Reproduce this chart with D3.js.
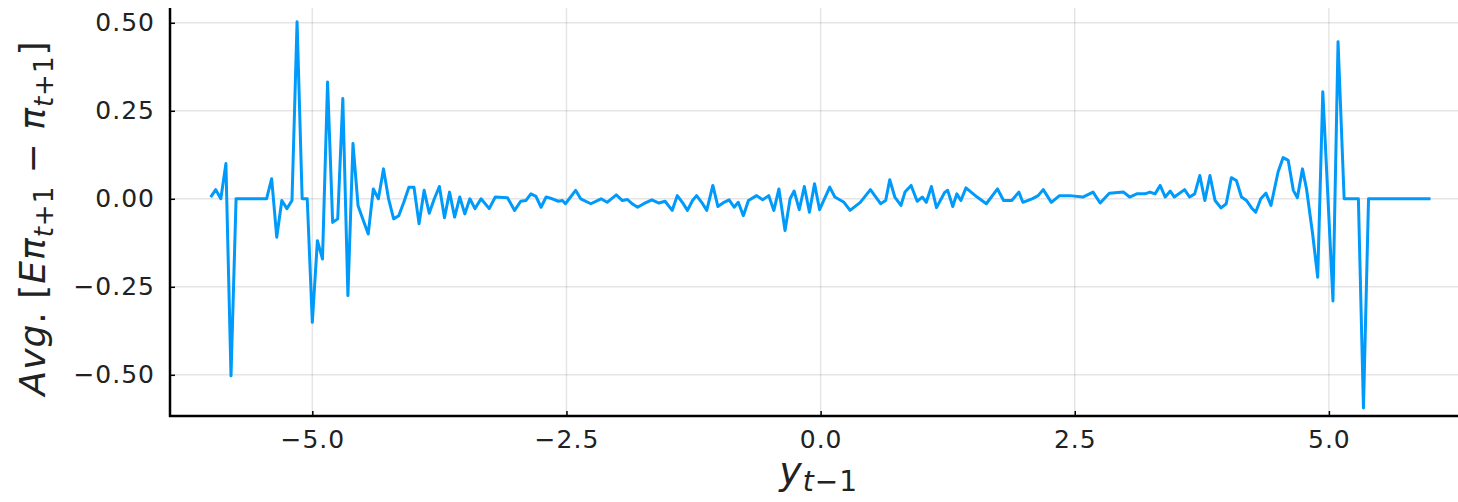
<!DOCTYPE html>
<html>
<head>
<meta charset="utf-8">
<script src="https://cdn.jsdelivr.net/npm/d3@7"></script>
<style>
  body { margin: 0; background: #fff; }
  svg { display: block; font-family: "DejaVu Sans", sans-serif; }
</style>
</head>
<body>
<div id="canvas"></div>
<script>
// y_{t-1} grid positions
var xVals = [-6.00,-5.95,-5.90,-5.85,-5.80,-5.75,-5.45,-5.40,-5.35,-5.30,-5.25,-5.20,-5.15,-5.10,-5.05,
  -5.00,-4.95,-4.90,-4.85,-4.80,-4.75,-4.70,-4.65,-4.60,-4.55,-4.50,-4.45,-4.40,-4.35,-4.30,-4.25,
  -4.20,-4.15,-4.10,-4.05,-4.00,-3.95,-3.90,-3.85,-3.80,-3.75,-3.70,-3.65,-3.60,-3.55,-3.50,-3.45,
  -3.40,-3.34,-3.26,-3.20,-3.08,-3.01,-2.95,-2.90,-2.85,-2.80,-2.75,-2.70,-2.64,-2.58,-2.54,-2.51,
  -2.41,-2.36,-2.26,-2.16,-2.10,-2.01,-1.95,-1.90,-1.85,-1.80,-1.74,-1.66,-1.59,-1.53,-1.46,-1.41,
  -1.36,-1.31,-1.26,-1.22,-1.17,-1.12,-1.06,-1.01,-0.95,-0.90,-0.85,-0.81,-0.76,-0.71,-0.63,-0.57,
  -0.51,-0.46,-0.41,-0.35,-0.30,-0.26,-0.21,-0.16,-0.11,-0.06,-0.01,0.09,0.14,0.23,0.29,0.39,0.49,
  0.59,0.64,0.68,0.73,0.79,0.83,0.89,0.95,1.00,1.04,1.09,1.14,1.22,1.25,1.30,1.34,1.38,1.43,1.54,
  1.63,1.74,1.80,1.88,1.95,1.99,2.08,2.14,2.19,2.27,2.35,2.45,2.58,2.68,2.75,2.84,2.98,3.04,3.11,
  3.19,3.24,3.29,3.34,3.39,3.44,3.48,3.58,3.63,3.68,3.73,3.78,3.83,3.88,3.94,3.99,4.04,4.09,4.14,
  4.19,4.24,4.28,4.33,4.38,4.43,4.50,4.55,4.60,4.65,4.69,4.74,4.78,4.84,4.89,4.94,5.04,5.09,5.15,
  5.29,5.34,5.39,6.00];

// Avg. forecast error at each point
var yVals = [0.005,0.026,0.000,0.100,-0.503,0.000,0.000,0.057,-0.109,-0.005,-0.028,-0.005,0.503,0.000,0.000,
  -0.351,-0.119,-0.171,0.332,-0.067,-0.057,0.285,-0.275,0.157,-0.020,-0.060,-0.100,0.028,0.000,0.085,0.000,
  -0.057,-0.048,-0.010,0.033,0.033,-0.071,0.024,-0.041,0.000,0.035,-0.054,0.019,-0.052,0.005,-0.043,0.000,
  -0.028,0.000,-0.028,0.005,0.003,-0.033,-0.007,-0.005,0.014,0.007,-0.024,0.005,0.000,-0.007,-0.005,-0.014,
  0.024,0.000,-0.014,0.000,-0.010,0.011,-0.005,-0.002,-0.015,-0.024,-0.014,-0.003,-0.012,-0.007,-0.033,0.009,
  -0.010,-0.033,-0.005,0.009,-0.010,-0.033,0.038,-0.022,-0.010,-0.003,-0.024,-0.010,-0.048,-0.005,0.009,-0.003,
  0.009,-0.033,0.028,-0.090,0.000,0.022,-0.031,0.035,-0.038,0.043,-0.031,0.033,0.005,-0.010,-0.033,-0.010,0.026,
  -0.014,-0.005,0.054,0.005,-0.019,0.019,0.038,-0.007,0.005,-0.010,0.035,-0.025,0.018,0.024,-0.022,0.014,-0.005,0.031,0.005,
  -0.014,0.028,-0.005,-0.005,0.019,-0.010,0.000,0.009,0.026,-0.010,0.009,0.009,0.005,0.019,-0.012,0.016,0.019,0.005,0.014,
  0.014,0.019,0.014,0.038,0.005,0.022,0.005,0.026,0.005,0.014,0.066,-0.005,0.066,-0.005,-0.026,-0.014,0.060,0.052,0.005,
  -0.005,-0.026,-0.038,0.000,0.016,-0.019,0.076,0.117,0.109,0.024,0.003,0.085,0.028,-0.100,-0.223,0.304,-0.290,0.446,0.000,
  0.000,-0.594,0.000,0.000];

var xTicks = [-5, -2.5, 0, 2.5, 5];
var yTicks = [-0.5, -0.25, 0, 0.25, 0.5];

var W = 1458, H = 502;
var m = {t:8, r:0, b:86, l:170};

var svg = d3.select('#canvas')
    .append('svg')
    .attr('width', W)
    .attr('height', H);

var x = d3.scaleLinear().domain([-6.4, 6.27]).range([m.l, W - m.r]);
var y = d3.scaleLinear().domain([-0.617, 0.542]).range([H - m.b, m.t]);

var fmtTick = function(d){ return d3.format('.1f')(d).replace('-', '\u2212'); };
var fmtTickY = function(d){ return d3.format('.2f')(d).replace('-', '\u2212'); };

//Grid
svg.append('g').selectAll('line')
    .data(xTicks).enter().append('line')
    .attr('x1', function(d){ return x(d); })
    .attr('x2', function(d){ return x(d); })
    .attr('y1', m.t).attr('y2', H - m.b)
    .style('stroke', '#000').style('stroke-opacity', 0.1).style('stroke-width', 1.5);

svg.append('g').selectAll('line')
    .data(yTicks).enter().append('line')
    .attr('x1', m.l).attr('x2', W)
    .attr('y1', function(d){ return y(d); })
    .attr('y2', function(d){ return y(d); })
    .style('stroke', '#000').style('stroke-opacity', 0.1).style('stroke-width', 1.5);

//Axes (ticks point inward)
var xAxis = svg.append('g')
    .attr('transform', 'translate(0,' + (H - m.b) + ')')
    .call(d3.axisBottom(x).tickValues(xTicks).tickSizeInner(-5).tickSizeOuter(0).tickPadding(14).tickFormat(fmtTick));

var yAxis = svg.append('g')
    .attr('transform', 'translate(' + m.l + ',0)')
    .call(d3.axisLeft(y).tickValues(yTicks).tickSizeInner(-5).tickSizeOuter(0).tickPadding(15).tickFormat(fmtTickY));

[xAxis, yAxis].forEach(function(a){
    a.select('.domain').style('stroke', '#000').style('stroke-width', 2.5);
    a.selectAll('.tick line').style('stroke', '#000').style('stroke-width', 1.5);
    a.selectAll('.tick text')
        .style('font-family', '"DejaVu Sans", sans-serif')
        .style('font-size', '25px')
        .style('letter-spacing', '1px')
        .style('fill', '#222');
});
xAxis.select('.domain').attr('d', 'M' + (m.l - 1) + ',0H' + W);
yAxis.select('.domain').attr('d', 'M0,' + m.t + 'V' + (H - m.b + 1));

//Line
var pts = xVals.map(function(d, i){ return [d, yVals[i]]; });
var line = d3.line()
    .x(function(d){ return x(d[0]); })
    .y(function(d){ return y(d[1]); });

svg.append('path')
    .datum(pts)
    .attr('d', line)
    .style('fill', 'none')
    .style('stroke', '#009AFA')
    .style('stroke-width', 3)
    .style('stroke-linejoin', 'round');

//X label
var xl = svg.append('text')
    .attr('x', x(0) - 2)
    .attr('y', 484)
    .attr('text-anchor', 'middle')
    .style('font-size', '38px')
    .style('letter-spacing', '1px')
    .style('fill', '#222');
xl.append('tspan').style('font-style', 'italic').text('y');
xl.append('tspan').attr('dy', 7).style('font-size', '28px').style('font-style', 'italic').text('t');
xl.append('tspan').style('font-size', '28px').text('\u22121');

//Y label
var yl = svg.append('text')
    .attr('transform', 'translate(45,' + 218 + ') rotate(-90)')
    .attr('text-anchor', 'middle')
    .style('font-size', '36px')
    .style('letter-spacing', '1px')
    .style('fill', '#222');
yl.append('tspan').style('font-style', 'italic').text('Avg');
yl.append('tspan').text('. [');
yl.append('tspan').style('font-style', 'italic').text('E\u03C0');
yl.append('tspan').attr('dy', 8).style('font-size', '26px').style('font-style', 'italic').text('t');
yl.append('tspan').style('font-size', '26px').text('+1');
yl.append('tspan').attr('dy', -8).text(' \u2212 ');
yl.append('tspan').style('font-style', 'italic').text('\u03C0');
yl.append('tspan').attr('dy', 8).style('font-size', '26px').style('font-style', 'italic').text('t');
yl.append('tspan').style('font-size', '26px').text('+1');
yl.append('tspan').attr('dy', -8).text(']');
</script>
</body>
</html>
